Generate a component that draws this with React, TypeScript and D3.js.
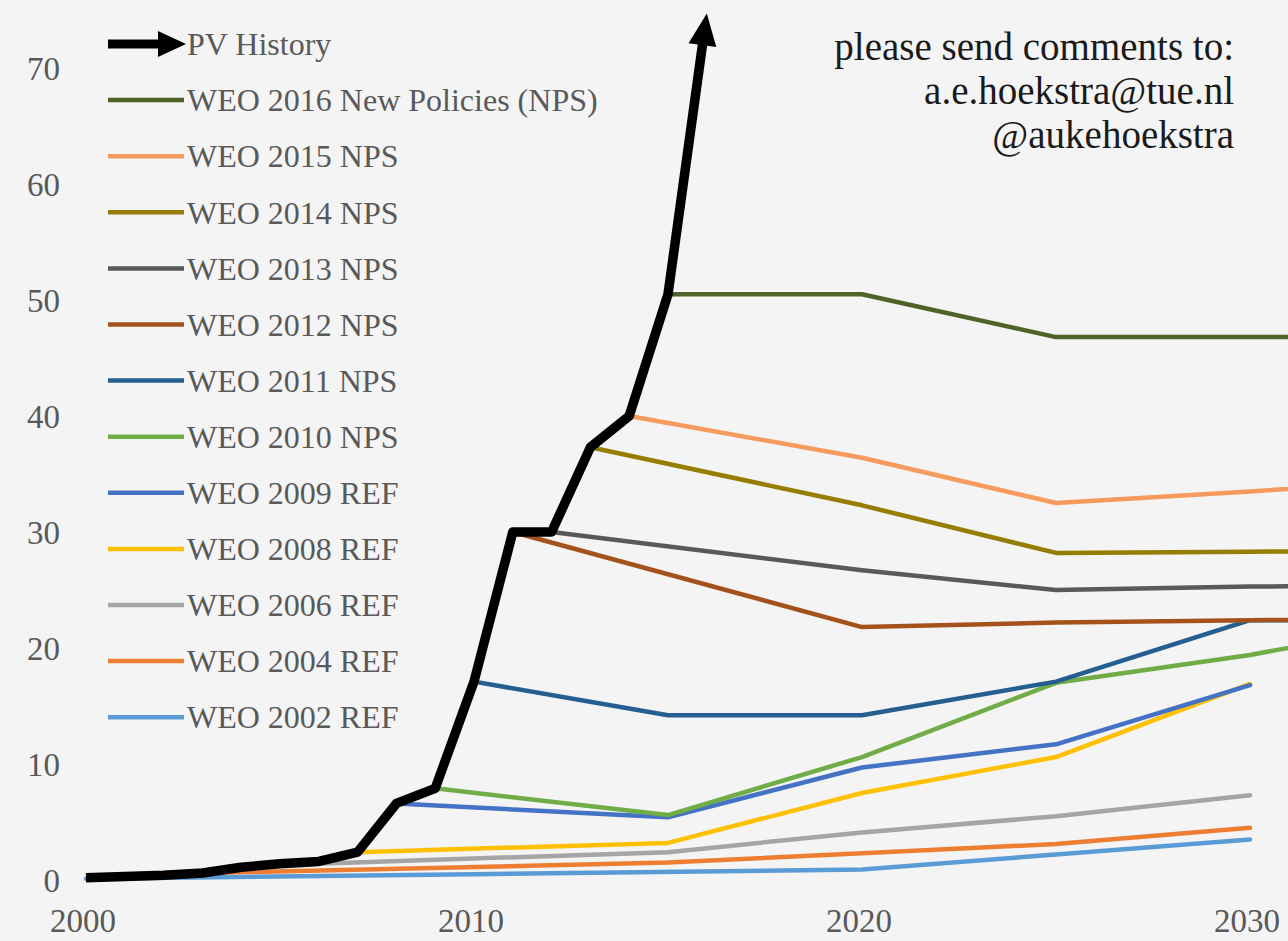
import React from 'react';
import * as d3 from 'd3';

// yearly PV additions (GW) and WEO projections
const pvHistory: [number, number][] = [
  [2000, 0.2], [2001, 0.3], [2002, 0.4], [2003, 0.6], [2004, 1.1],
  [2005, 1.4], [2006, 1.6], [2007, 2.4], [2008, 6.6], [2009, 7.9],
  [2010, 17.1], [2011, 30.0], [2012, 30.0], [2013, 37.3], [2014, 40.0],
  [2015, 50.5], [2016, 74.7],
];

const weo2016: [number, number][] = [[2015, 50.5], [2020, 50.5], [2025, 46.8], [2030, 46.8], [2035, 46.8]];
const weo2015: [number, number][] = [[2014, 40.0], [2020, 36.4], [2025, 32.5], [2030, 33.5], [2035, 34.6]];
const weo2014: [number, number][] = [[2013, 37.3], [2020, 32.3], [2025, 28.2], [2030, 28.3], [2035, 28.4]];
const weo2013: [number, number][] = [[2012, 30.0], [2020, 26.7], [2025, 25.0], [2030, 25.3], [2035, 25.4]];
const weo2012: [number, number][] = [[2011, 30.0], [2020, 21.8], [2025, 22.2], [2030, 22.4], [2035, 22.5]];
const weo2011: [number, number][] = [[2010, 17.1], [2015, 14.2], [2020, 14.2], [2025, 17.1], [2030, 22.4], [2035, 22.4]];
const weo2010: [number, number][] = [[2009, 7.9], [2015, 5.6], [2020, 10.6], [2025, 17.0], [2030, 19.4], [2035, 22.5]];
const weo2009: [number, number][] = [[2008, 6.6], [2015, 5.4], [2020, 9.7], [2025, 11.7], [2030, 16.8]];
const weo2008: [number, number][] = [[2007, 2.4], [2015, 3.2], [2020, 7.5], [2025, 10.6], [2030, 16.9]];
const weo2006: [number, number][] = [[2005, 1.3], [2015, 2.4], [2020, 4.1], [2025, 5.5], [2030, 7.3]];
const weo2004: [number, number][] = [[2003, 0.6], [2015, 1.5], [2020, 2.3], [2025, 3.1], [2030, 4.5]];
const weo2002: [number, number][] = [[2000, 0.1], [2010, 0.5], [2020, 0.9], [2025, 2.2], [2030, 3.5]];

const scenarioNames = [
  'WEO 2016 New Policies (NPS)', 'WEO 2015 NPS', 'WEO 2014 NPS', 'WEO 2013 NPS',
  'WEO 2012 NPS', 'WEO 2011 NPS', 'WEO 2010 NPS', 'WEO 2009 REF',
  'WEO 2008 REF', 'WEO 2006 REF', 'WEO 2004 REF', 'WEO 2002 REF',
];
const scenarioData = [
  weo2016, weo2015, weo2014, weo2013, weo2012, weo2011,
  weo2010, weo2009, weo2008, weo2006, weo2004, weo2002,
];
const scenarioColors = [
  '#4f6228', '#f79a5e', '#957d00', '#595959', '#a5511c', '#255e91',
  '#70ad47', '#4472c4', '#ffc000', '#a5a5a5', '#ed7d31', '#5b9bd5',
];

const historyLabel = 'PV History';
const xTicks = [2000, 2010, 2020, 2030];
const yTicks = [0, 10, 20, 30, 40, 50, 60, 70];
const commentLines = ['please send comments to:', 'a.e.hoekstra@tue.nl', '@aukehoekstra'];

const W = 1288;
const H = 941;
const serif = 'Liberation Serif, DejaVu Serif, serif';

const App = () => {
  const x = d3.scaleLinear().domain([2000, 2030]).range([86, 1250]);
  const y = d3.scaleLinear().domain([0, 70]).range([880, 68]);

  const line = d3
    .line<[number, number]>()
    .x((d) => x(d[0]))
    .y((d) => y(d[1]));

  // history line stops short of the last point, where the arrow head goes
  const pts = pvHistory.map((d) => [x(d[0]), y(d[1])] as [number, number]);
  const tip = pts[pts.length - 1];
  const prev = pts[pts.length - 2];
  const len = Math.hypot(tip[0] - prev[0], tip[1] - prev[1]);
  const ux = (tip[0] - prev[0]) / len;
  const uy = (tip[1] - prev[1]) / len;
  const headLen = 32;
  const headHalf = 14;
  const lineEnd: [number, number] = [tip[0] - ux * (headLen - 6), tip[1] - uy * (headLen - 6)];
  const histPath = d3.line()([...pts.slice(0, -1), lineEnd]) as string;
  const bx = tip[0] - ux * headLen;
  const by = tip[1] - uy * headLen;
  const head = [
    [tip[0], tip[1]],
    [bx - uy * headHalf, by + ux * headHalf],
    [bx + uy * headHalf, by - ux * headHalf],
  ]
    .map((p) => p.join(','))
    .join(' ');

  const legendX = 108;
  const legendTop = 44;
  const legendStep = 56.1;

  return (
    <svg
      width={W}
      height={H}
      style={{ position: 'absolute', left: 0, top: 0, display: 'block' }}
    >
      <rect width={W} height={H} fill="#f4f4f4" />

      {/* y tick labels */}
      <g style={{ fontFamily: serif }} fontSize={33} fill="#595959">
        {yTicks.map((t) => (
          <text key={t} x={60} y={y(t)} dy="0.35em" textAnchor="end">
            {t}
          </text>
        ))}
        {/* x tick labels */}
        {xTicks.map((t) => (
          <text key={t} x={x(t) - 3} y={932} textAnchor="middle">
            {t}
          </text>
        ))}
      </g>

      {/* scenario lines, oldest drawn first */}
      {scenarioData
        .map((d, i) => ({ d, i }))
        .reverse()
        .map(({ d, i }) => (
          <path
            key={scenarioNames[i]}
            d={line(d) as string}
            fill="none"
            stroke={scenarioColors[i]}
            strokeWidth={4.5}
            strokeLinejoin="round"
            strokeLinecap="round"
          />
        ))}

      {/* PV history */}
      <path d={histPath} fill="none" stroke="#000" strokeWidth={9.5} strokeLinejoin="round" />
      <polygon points={head} fill="#000" />

      {/* legend */}
      <g style={{ fontFamily: serif }} fontSize={32} fill="#595959">
        <line x1={legendX} x2={legendX + 56} y1={legendTop} y2={legendTop} stroke="#000" strokeWidth={9} />
        <polygon
          points={`${legendX + 78},${legendTop} ${legendX + 50},${legendTop - 13} ${legendX + 50},${legendTop + 13}`}
          fill="#000"
        />
        <text x={legendX + 79} y={legendTop} dy="0.35em">
          {historyLabel}
        </text>
        {scenarioNames.map((name, i) => {
          const ly = legendTop + legendStep * (i + 1);
          return (
            <g key={name}>
              <line
                x1={legendX}
                x2={legendX + 76}
                y1={ly}
                y2={ly}
                stroke={scenarioColors[i]}
                strokeWidth={4.5}
              />
              <text x={legendX + 79} y={ly} dy="0.35em">
                {name}
              </text>
            </g>
          );
        })}
      </g>

      {/* comment note */}
      <g style={{ fontFamily: serif }} fontSize={39} fill="#1a1a1a" textAnchor="end">
        {commentLines.map((c, i) => (
          <text key={c} x={1234} y={60 + i * 44}>
            {c}
          </text>
        ))}
      </g>
    </svg>
  );
};

export default App;
